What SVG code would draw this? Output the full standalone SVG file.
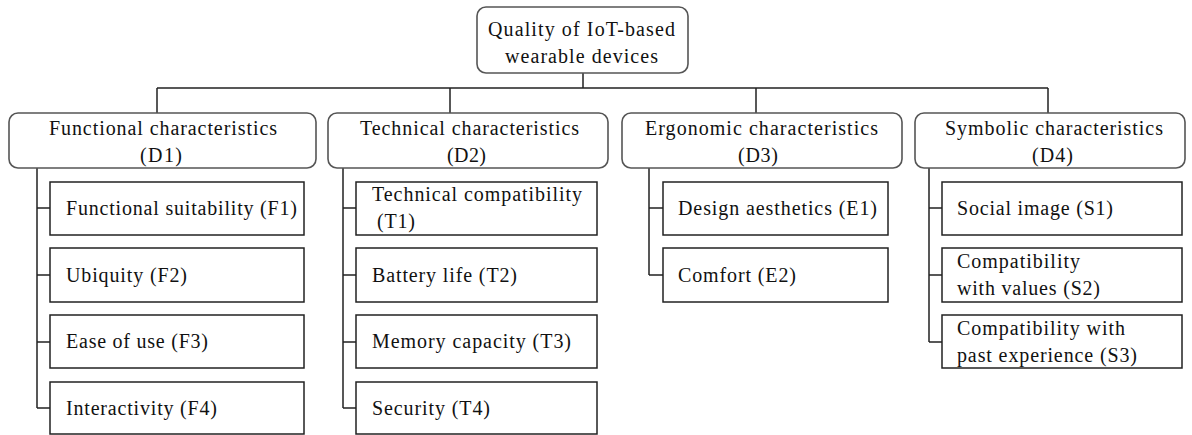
<svg xmlns="http://www.w3.org/2000/svg" width="1192" height="435" viewBox="0 0 1192 435">
<style>
.rbox{fill:#fff;stroke:#555;stroke-width:1.6}
.box{fill:#fff;stroke:#222;stroke-width:1.5}
.ln{fill:none;stroke:#222;stroke-width:1.5}
text{font-family:"Liberation Serif","Times New Roman",serif;font-size:20px;fill:#111}
</style>
<rect width="1192" height="435" fill="#fff"/>
<g id="connectors">
<path class="ln" d="M583 73V88M157 88H1048M157 88V113M450 88V113M756 88V113M1048 88V113"/>
<path class="ln" d="M37 168V408M37 208H50M37 275H50M37 342H50M37 408H50"/>
<path class="ln" d="M343 168V408M343 208H356M343 275H356M343 342H356M343 408H356"/>
<path class="ln" d="M649 168V275M649 208H663M649 275H663"/>
<path class="ln" d="M929 168V342M929 208H942M929 275H942M929 342H942"/>
</g>
<g id="root">
<rect class="rbox" x="477" y="7" width="211" height="66" rx="9"/>
<text x="488" y="36" textLength="187" lengthAdjust="spacing">Quality of IoT-based</text>
<text x="505" y="63" textLength="153" lengthAdjust="spacing">wearable devices</text>
</g>
<g id="D1">
<rect class="rbox" x="9" y="113" width="307" height="55" rx="9"/>
<text x="49" y="135" textLength="228" lengthAdjust="spacing">Functional characteristics</text>
<text x="140" y="162" textLength="42" lengthAdjust="spacing">(D1)</text>
</g>
<g id="D2">
<rect class="rbox" x="328" y="113" width="280" height="55" rx="9"/>
<text x="360" y="135" textLength="219" lengthAdjust="spacing">Technical characteristics</text>
<text x="447" y="162" textLength="39" lengthAdjust="spacing">(D2)</text>
</g>
<g id="D3">
<rect class="rbox" x="622" y="113" width="280" height="55" rx="9"/>
<text x="645" y="135" textLength="233" lengthAdjust="spacing">Ergonomic characteristics</text>
<text x="738" y="162" textLength="40" lengthAdjust="spacing">(D3)</text>
</g>
<g id="D4">
<rect class="rbox" x="915" y="113" width="270" height="55" rx="9"/>
<text x="945" y="135" textLength="218" lengthAdjust="spacing">Symbolic characteristics</text>
<text x="1032" y="162" textLength="41" lengthAdjust="spacing">(D4)</text>
</g>
<g id="F1"><rect class="box" x="50" y="182" width="254" height="53"/><text x="66" y="215" textLength="231" lengthAdjust="spacing">Functional suitability (F1)</text></g>
<g id="F2"><rect class="box" x="50" y="248" width="254" height="54"/><text x="66" y="282" textLength="121" lengthAdjust="spacing">Ubiquity (F2)</text></g>
<g id="F3"><rect class="box" x="50" y="315" width="254" height="53"/><text x="66" y="348" textLength="142" lengthAdjust="spacing">Ease of use (F3)</text></g>
<g id="F4"><rect class="box" x="50" y="382" width="254" height="52"/><text x="66" y="415" textLength="151" lengthAdjust="spacing">Interactivity (F4)</text></g>
<g id="T1"><rect class="box" x="356" y="182" width="241" height="53"/><text x="372" y="201" textLength="210" lengthAdjust="spacing">Technical compatibility</text><text x="377" y="228" textLength="38" lengthAdjust="spacing">(T1)</text></g>
<g id="T2"><rect class="box" x="356" y="248" width="241" height="54"/><text x="372" y="282" textLength="145" lengthAdjust="spacing">Battery life (T2)</text></g>
<g id="T3"><rect class="box" x="356" y="315" width="241" height="53"/><text x="372" y="348" textLength="199" lengthAdjust="spacing">Memory capacity (T3)</text></g>
<g id="T4"><rect class="box" x="356" y="382" width="241" height="52"/><text x="372" y="415" textLength="118" lengthAdjust="spacing">Security (T4)</text></g>
<g id="E1"><rect class="box" x="663" y="182" width="225" height="53"/><text x="678" y="215" textLength="199" lengthAdjust="spacing">Design aesthetics (E1)</text></g>
<g id="E2"><rect class="box" x="663" y="248" width="225" height="54"/><text x="678" y="282" textLength="118" lengthAdjust="spacing">Comfort (E2)</text></g>
<g id="S1"><rect class="box" x="942" y="182" width="240" height="53"/><text x="957" y="215" textLength="156" lengthAdjust="spacing">Social image (S1)</text></g>
<g id="S2"><rect class="box" x="942" y="248" width="240" height="54"/><text x="957" y="268" textLength="123" lengthAdjust="spacing">Compatibility</text><text x="957" y="295" textLength="143" lengthAdjust="spacing">with values (S2)</text></g>
<g id="S3"><rect class="box" x="942" y="315" width="240" height="53"/><text x="957" y="335" textLength="168" lengthAdjust="spacing">Compatibility with</text><text x="957" y="362" textLength="180" lengthAdjust="spacing">past experience (S3)</text></g>
</svg>
